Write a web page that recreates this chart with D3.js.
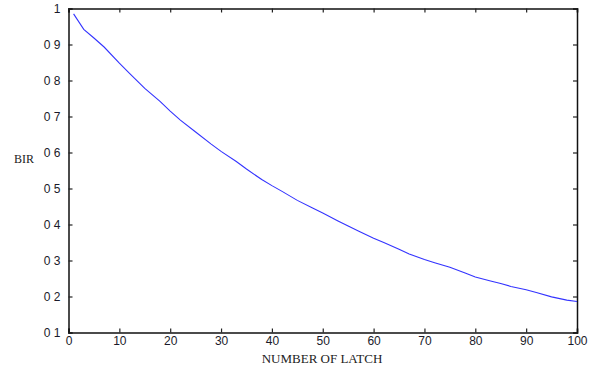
<!DOCTYPE html>
<html>
<head>
<meta charset="utf-8">
<script src="https://cdn.jsdelivr.net/npm/d3@7"></script>
<style>
  body { margin: 0; background: #fff; }
  svg { display: block; }
</style>
</head>
<body>
<svg></svg>
<script>
// values
var latch = [1, 3, 5, 7, 10, 12, 15, 18, 20, 22, 25, 28, 30, 33, 35, 38, 40, 42, 45, 48, 50, 53, 55, 57, 60, 62, 65, 67, 70, 72, 75, 78, 80, 83, 85, 87, 90, 92, 95, 98, 100];
var bir   = [0.985, 0.942, 0.918, 0.893, 0.848, 0.82, 0.778, 0.742, 0.715, 0.69, 0.657, 0.624, 0.603, 0.575, 0.554, 0.525, 0.508, 0.492, 0.467, 0.446, 0.432, 0.41, 0.396, 0.382, 0.362, 0.35, 0.331, 0.318, 0.303, 0.294, 0.281, 0.265, 0.254, 0.243, 0.236, 0.228, 0.219, 0.211, 0.199, 0.19, 0.186];
var xTicks = [0, 10, 20, 30, 40, 50, 60, 70, 80, 90, 100];
var yTicks = [0.1, 0.2, 0.3, 0.4, 0.5, 0.6, 0.7, 0.8, 0.9, 1];
var yTickLabels = ["0 1", "0 2", "0 3", "0 4", "0 5", "0 6", "0 7", "0 8", "0 9", "1"];

var svg = d3.select("svg");
var svgWidth = 595, svgHeight = 367;
var margin = {top: 8.5, right: 18, bottom: 34.5, left: 68.5},
    width = svgWidth - margin.left - margin.right,
    height = svgHeight - margin.top - margin.bottom;

svg.attr("width", svgWidth).attr("height", svgHeight);

var xScale = d3.scaleLinear().domain([0, 100]).range([0, width]);
var yScale = d3.scaleLinear().domain([0.1, 1]).range([height, 0]);

var g = svg.append("g").attr("transform", "translate(" + margin.left + "," + margin.top + ")");

// inward ticks, matlab style
var xAxis = d3.axisBottom(xScale).tickValues(xTicks).tickSize(-4).tickPadding(4);
var xTop = d3.axisTop(xScale).tickValues(xTicks).tickSize(-4).tickFormat("");
var yAxis = d3.axisLeft(yScale).tickValues(yTicks).tickSize(-4).tickPadding(8)
    .tickFormat(function(d, i) { return yTickLabels[i]; });
var yRight = d3.axisRight(yScale).tickValues(yTicks).tickSize(-4).tickFormat("");

g.append("g").attr("transform", "translate(0," + height + ")").call(xAxis);
g.append("g").call(xTop);
g.append("g").call(yAxis);
g.append("g").attr("transform", "translate(" + width + ",0)").call(yRight);

g.selectAll(".domain").attr("stroke", "#111").attr("stroke-width", 1.5);
g.selectAll(".tick line").attr("stroke", "#222").attr("stroke-width", 1.2);
g.selectAll(".tick text")
  .attr("fill", "#1a1a2a")
  .style("font-family", "'Liberation Sans', Arial, sans-serif")
  .style("font-size", "12px");

var line = d3.line()
  .x(function(d, i) { return xScale(latch[i]); })
  .y(function(d) { return yScale(d); });

g.append("path")
  .datum(bir)
  .attr("fill", "none")
  .attr("stroke", "#3333ff")
  .attr("stroke-width", 1.1)
  .attr("d", line);

// axis titles
svg.append("text")
  .attr("x", 322).attr("y", 363)
  .attr("text-anchor", "middle")
  .style("font-family", "'Liberation Serif', 'Times New Roman', serif")
  .style("font-size", "13px")
  .attr("fill", "#222")
  .text("NUMBER OF LATCH");

svg.append("text")
  .attr("x", 14).attr("y", 163)
  .style("font-family", "'Liberation Serif', 'Times New Roman', serif")
  .style("font-size", "12px")
  .attr("fill", "#222")
  .text("BIR");
</script>
</body>
</html>
